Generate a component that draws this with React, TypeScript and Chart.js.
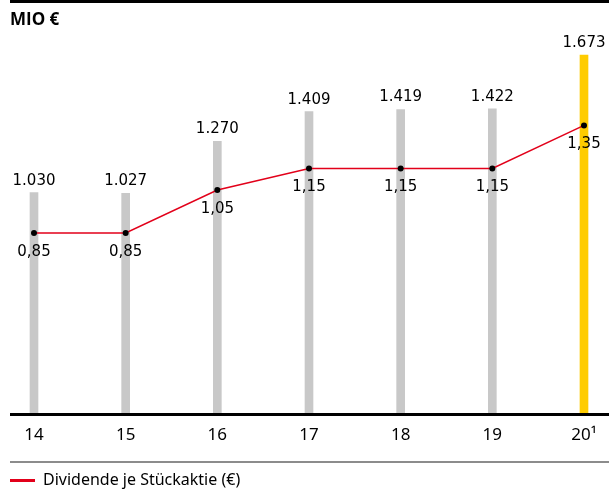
import React, { useEffect, useRef } from "react";
import { Chart, registerables } from "chart.js";

Chart.register(...registerables);

const categories = ["14", "15", "16", "17", "18", "19", "20¹"];
const profitValues = [1030, 1027, 1270, 1409, 1419, 1422, 1673];
const dividendValues = [0.85, 0.85, 1.05, 1.15, 1.15, 1.15, 1.35];
const unitLabel = "MIO €";
const legendLabel = "Dividende je Stückaktie (€)";

const fmtProfit = (v: number) => v.toLocaleString("de-DE");
const fmtDiv = (v: number) =>
  v.toLocaleString("de-DE", { minimumFractionDigits: 2, maximumFractionDigits: 2 });

const GRAY = "#c8c8c8";
const YELLOW = "#ffcc00";
const RED = "#e2001a";

const decor = {
  id: "decor",
  afterDatasetsDraw(chart: any) {
    const { ctx, chartArea } = chart;
    ctx.save();
    ctx.fillStyle = "#000";
    ctx.fillRect(10, 0, 599, 3);
    ctx.fillRect(10, chartArea.bottom, 599, 3);
    ctx.fillStyle = "#8c8c8c";
    ctx.fillRect(10, 461, 599, 2);

    ctx.fillStyle = "#000";
    ctx.textBaseline = "middle";
    ctx.textAlign = "left";
    ctx.font = "bold 17px 'Open Sans'";
    ctx.fillText(unitLabel, 10, 20);

    ctx.textAlign = "center";
    ctx.font = "15px 'DejaVu Sans'";
    const barMeta = chart.getDatasetMeta(0);
    barMeta.data.forEach((el: any, i: number) => {
      ctx.fillText(fmtProfit(profitValues[i]), el.x, el.y - 12);
    });
    const lineMeta = chart.getDatasetMeta(1);
    lineMeta.data.forEach((el: any, i: number) => {
      ctx.fillText(fmtDiv(dividendValues[i]), el.x, el.y + 19);
    });

    const xs = chart.scales.x;
    ctx.font = "17px 'Noto Sans'";
    categories.forEach((c, i) => {
      ctx.fillText(c, xs.getPixelForValue(i), 435);
    });

    ctx.fillStyle = RED;
    ctx.fillRect(10, 479, 25, 3);
    ctx.fillStyle = "#000";
    ctx.textAlign = "left";
    ctx.font = "16px 'Noto Sans'";
    ctx.fillText(legendLabel, 43, 480);
    ctx.restore();
  },
};

export default function App() {
  const ref = useRef<HTMLCanvasElement>(null);
  useEffect(() => {
    document.body.style.margin = "0";
    const last = profitValues.length - 1;
    const chart = new Chart(ref.current!, {
      type: "bar",
      data: {
        labels: categories,
        datasets: [
          {
            type: "bar",
            data: profitValues,
            backgroundColor: profitValues.map((_, i) => (i === last ? YELLOW : GRAY)),
            barThickness: 8,
            borderWidth: 0,
            yAxisID: "y",
            order: 2,
            clip: false,
          } as any,
          {
            type: "line",
            data: dividendValues,
            borderColor: RED,
            borderWidth: 1.5,
            pointRadius: 3,
            pointBackgroundColor: "#000",
            pointBorderWidth: 0,
            yAxisID: "y2",
            order: 1,
            clip: false,
          } as any,
        ],
      },
      options: {
        responsive: false,
        animation: false,
        layout: { padding: { left: 34, right: 25, top: 28, bottom: 83 } },
        plugins: { legend: { display: false }, tooltip: { enabled: false } },
        scales: {
          x: { display: false, offset: false },
          y: { display: false, min: 0, max: 1800 },
          y2: { display: false, min: 0.013, max: 1.803, position: "right" },
        },
      },
      plugins: [decor],
    });
    return () => chart.destroy();
  }, []);
  return <canvas ref={ref} width={609} height={496} style={{ display: "block" }} />;
}
